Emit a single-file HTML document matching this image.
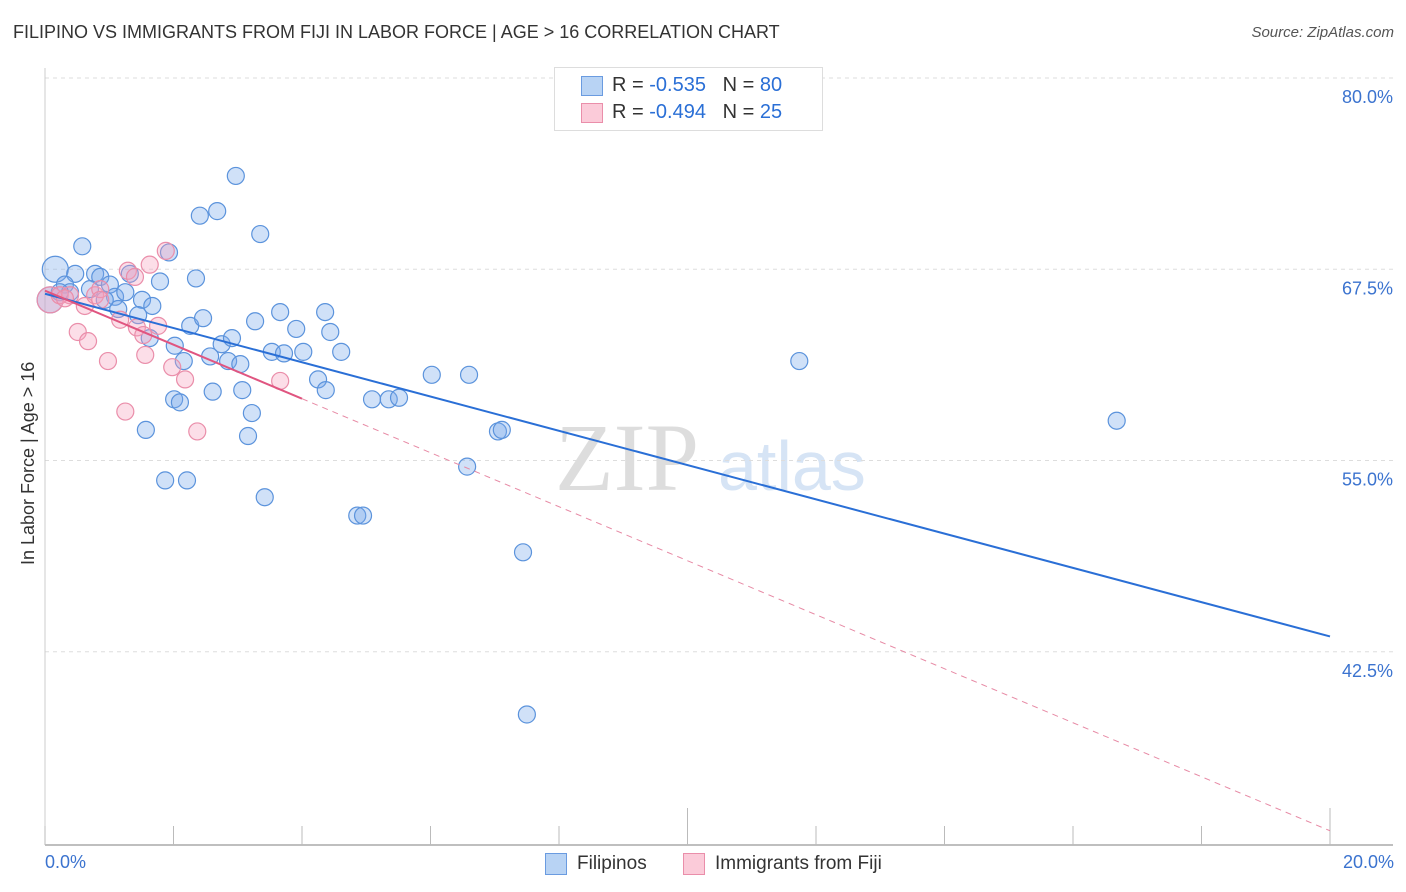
<!DOCTYPE html>
<html><head><meta charset="utf-8"><style>
body{margin:0;background:#fff;font-family:"Liberation Sans",sans-serif}
#wrap{position:relative;width:1406px;height:892px;overflow:hidden}
.t{position:absolute;white-space:nowrap}
</style></head><body>
<div id="wrap">
<div class="t" style="left:13px;top:22px;font-size:18px;color:#333">FILIPINO VS IMMIGRANTS FROM FIJI IN LABOR FORCE | AGE &gt; 16 CORRELATION CHART</div>
<div class="t" style="right:12px;top:24px;font-size:15px;color:#555;font-style:italic">Source: ZipAtlas.com</div>
<svg id="svg" width="1406" height="892" style="position:absolute;left:0;top:0"></svg>
</div>
<script>
const blueX=[0.16,0.08,0.58,0.47,0.78,0.86,1.32,1.01,0.31,0.39,1.09,1.25,1.51,1.67,1.79,2.35,2.41,2.68,2.97,3.35,1.93,1.45,1.63,2.26,2.46,2.02,2.16,2.57,2.75,2.91,2.85,3.04,3.27,3.53,3.72,3.91,4.02,3.66,4.36,4.44,4.61,4.25,4.37,2.61,3.07,3.22,3.16,2.01,2.10,1.57,1.87,2.21,3.42,4.86,4.95,5.09,5.35,5.51,6.02,6.60,7.05,7.11,6.57,7.44,7.50,11.74,16.68,1.14,0.93,0.70,0.23];
const blueY=[67.5,65.5,69.0,67.2,67.2,67.0,67.2,66.5,66.5,66.0,65.7,66.0,65.5,65.1,66.7,66.9,71.0,71.3,73.6,69.8,68.6,64.5,63.0,63.8,64.3,62.5,61.5,61.8,62.6,63.0,61.5,61.3,64.1,62.1,62.0,63.6,62.1,64.7,64.7,63.4,62.1,60.3,59.6,59.5,59.6,58.1,56.6,59.0,58.8,57.0,53.7,53.7,52.6,51.4,51.4,59.0,59.0,59.1,60.6,60.6,56.9,57.0,54.6,49.0,38.4,61.5,57.6,64.9,65.5,66.2,66.0];
const pinkX=[0.08,0.23,0.39,0.62,0.78,0.86,1.29,1.40,1.17,1.43,1.53,1.88,1.63,1.76,0.51,0.67,0.98,1.56,1.98,2.18,1.25,2.37,3.66,0.86,0.31];
const pinkY=[65.5,65.8,65.8,65.1,65.8,66.2,67.4,67.0,64.2,63.7,63.2,68.7,67.8,63.8,63.4,62.8,61.5,61.9,61.1,60.3,58.2,56.9,60.2,65.5,65.6];
const yTicks=[80,67.5,55,42.5];
const yTickLabels=["80.0%","67.5%","55.0%","42.5%"];
const blueLine=[65.9,43.5];
const pinkLine=[66.1,30.8];
const pinkSolidEnd=4;
const X=v=>45+v*64.25, Y=v=>78+(80-v)*15.3;
const svg=document.getElementById('svg');const NS='http://www.w3.org/2000/svg';
function mk(t,a,p){const e=document.createElementNS(NS,t);for(const k in a)e.setAttribute(k,a[k]);(p||svg).appendChild(e);return e;}
// watermark
let wm=mk('text',{x:555,y:490,'font-size':96,fill:'#ddd','font-family':'Liberation Serif, serif'});wm.textContent='ZIP';


let wm2=mk('text',{x:718,y:490,'font-size':70,fill:'#d6e4f5','font-family':'Liberation Sans, sans-serif'});wm2.textContent='atlas';


yTicks.forEach((v,i)=>{
 const g=mk('line',{x1:45,x2:1393,y1:Y(v),y2:Y(v),stroke:'#ddd','stroke-dasharray':'4,4'});
 
 
 const t=mk('text',{x:1393,y:Y(v)+25,'text-anchor':'end','font-size':18,fill:'#3b73cf'});t.textContent=yTickLabels[i];
 
 
});
let ax=mk('line',{x1:45,x2:1393,y1:845,y2:845,stroke:'#aaa','stroke-width':1.5});


let ay=mk('line',{x1:45,x2:45,y1:68,y2:845,stroke:'#ccc'});


for(let i=0;i<=10;i++){const x=X(i*2);const tk=mk('line',{x1:x,x2:x,y1:(i==5||i==10)?808:826,y2:845,stroke:'#bbb'});
 
 }
function dots(xs,ys,fill,stroke,name){xs.forEach((x,i)=>{const c=mk('circle',{cx:X(x),cy:Y(ys[i]),r:i<2&&name=='blue-point'?13:(i==0?13:8.5),fill:fill,stroke:stroke,'stroke-width':1.2});
 
 });}
dots(blueX,blueY,'rgba(120,170,235,0.35)','#5b93dc','blue-point');
dots(pinkX,pinkY,'rgba(245,160,190,0.35)','#ea8eaa','pink-point');
let bl=mk('line',{x1:X(0),y1:Y(blueLine[0]),x2:X(20),y2:Y(blueLine[1]),stroke:'#2a6fd6','stroke-width':2});


const pAt=v=>pinkLine[0]+(pinkLine[1]-pinkLine[0])*v/20;
let pl=mk('line',{x1:X(0),y1:Y(pinkLine[0]),x2:X(pinkSolidEnd),y2:Y(pAt(pinkSolidEnd)),stroke:'#e05580','stroke-width':2});


let pd=mk('line',{x1:X(pinkSolidEnd),y1:Y(pAt(pinkSolidEnd)),x2:X(20),y2:Y(pinkLine[1]),stroke:'#e78aa5','stroke-width':1,'stroke-dasharray':'6,5'});


</script>
<div class="t" style="left:18px;top:565px;transform:rotate(-90deg);transform-origin:0 0;font-size:18px;color:#333">In Labor Force | Age &gt; 16</div>
<div class="t" style="left:45px;top:852px;font-size:18px;color:#3b73cf">0.0%</div>
<div class="t" style="right:12px;top:852px;font-size:18px;color:#3b73cf">20.0%</div>
<div style="position:absolute;left:554px;top:67px;width:267px;height:62px;border:1px solid #ddd;background:#fff;font-size:20px">
 <div style="position:absolute;left:26px;top:8px;width:20px;height:18px;background:#b8d3f4;border:1px solid #6a9be0"></div>
 <div class="t" style="left:57px;top:6px;color:#333">R = <span style="color:#2a6fd6">-0.535</span>&nbsp;&nbsp;&nbsp;N = <span style="color:#2a6fd6">80</span></div>
 <div style="position:absolute;left:26px;top:35px;width:20px;height:18px;background:#fbcbd9;border:1px solid #ea8eaa"></div>
 <div class="t" style="left:57px;top:33px;color:#333">R = <span style="color:#2a6fd6">-0.494</span>&nbsp;&nbsp;&nbsp;N = <span style="color:#2a6fd6">25</span></div>
</div>
<div style="position:absolute;left:545px;top:853px;width:20px;height:20px;background:#b8d3f4;border:1px solid #6a9be0"></div>
<div class="t" style="left:577px;top:853px;font-size:19px;color:#333">Filipinos</div>
<div style="position:absolute;left:683px;top:853px;width:20px;height:20px;background:#fbcbd9;border:1px solid #ea8eaa"></div>
<div class="t" style="left:715px;top:853px;font-size:19px;color:#333">Immigrants from Fiji</div>
</body></html>
